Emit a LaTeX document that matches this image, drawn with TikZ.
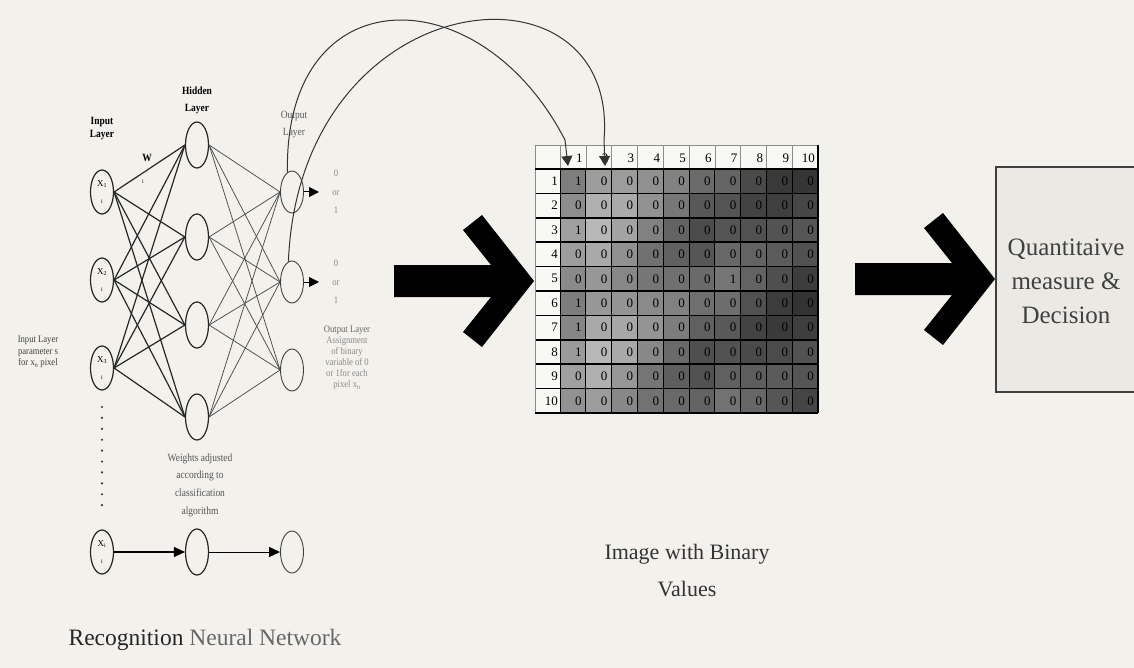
\documentclass[tikz,border=0pt]{standalone}
\usepackage{fontspec}
\setmainfont{Liberation Serif}
\newfontfamily\narrowserif[FakeStretch=0.86]{Liberation Serif}
\usetikzlibrary{shapes.geometric,arrows.meta}
\definecolor{paper}{HTML}{F2F1EB}
\definecolor{cellwhite}{HTML}{F8F8F4}
\definecolor{boxfill}{HTML}{EAE9E3}
\definecolor{inkgray}{HTML}{555555}
\definecolor{fadegray}{HTML}{8A8A8A}
\tikzset{
  neuron/.style={ellipse, draw=black!85, line width=1.2pt, minimum width=23pt,
    minimum height=44pt, inner sep=0pt, align=center},
  hidneuron/.style={neuron, minimum height=46pt},
  outneuron/.style={neuron, line width=0.9pt, draw=black!75, minimum height=42pt},
  wfirst/.style={line width=1.2pt, draw=black!85},
  wsecond/.style={line width=0.75pt, draw=black!70},
  tag/.style={font=\narrowserif\fontsize{11}{13}\selectfont, align=center, inner sep=0pt},
  smalltag/.style={font=\narrowserif\fontsize{10}{11.5}\selectfont, align=center, inner sep=0pt},
  caption/.style={font=\fontsize{22}{37}\selectfont, align=center, inner sep=0pt, text=black!80},
  celldigit/.style={font=\fontsize{13}{13}\selectfont, anchor=east, inner sep=0pt},
  feed/.style={line width=1pt, draw=black!80},
  tiptri/.style={-{Triangle[length=10pt,width=10pt]}},
}
\newcommand{\xin}[1]{{\fontsize{9}{9}\selectfont X\textsubscript{#1}}\\[5pt]{\fontsize{6}{6}\selectfont i}}
\newcommand{\chevronarrow}[2]{%
  \fill[black, shift={(#1,#2)}] (855,263) -- (952,263) -- (924,228) -- (943,213) --
    (995,279) -- (943,345) -- (924,330) -- (952,295) -- (855,295) -- cycle;}
\begin{document}
\begin{tikzpicture}[x=1pt,y=-1pt]
\useasboundingbox (0,0) rectangle (1134,668);
\fill[paper] (0,0) rectangle (1134,668);

% ---------- neural network ----------
\node[neuron] (in1) at (102,192) {\xin{1}};
\node[neuron] (in2) at (102,280) {\xin{2}};
\node[neuron] (in3) at (102,368) {\xin{3}};
\node[hidneuron] (h1) at (197,145) {};
\node[hidneuron] (h2) at (197,237) {};
\node[hidneuron] (h3) at (197,325) {};
\node[hidneuron] (h4) at (197,417) {};
\node[outneuron] (o1) at (292,192) {};
\node[outneuron] (o2) at (292,282) {};
\node[outneuron] (o3) at (292,370) {};

\foreach \i in {1,2,3}
  \foreach \j in {1,2,3,4}
    \draw[wfirst] (in\i.east) -- (h\j.west);
\foreach \j in {1,2,3,4}
  \foreach \k in {1,2,3}
    \draw[wsecond] (h\j.east) -- (o\k.west);

% outputs of the first two output neurons
\coordinate (o1r) at (319,192);
\coordinate (o2r) at (319,282);
\draw[line width=1pt, tiptri] (o1.east) -- (o1r);
\draw[line width=1pt, tiptri] (o2.east) -- (o2r);
\node[font=\narrowserif\fontsize{10}{18.5}\selectfont, align=center, text=fadegray] (o1v) at (336,192) {0\\or\\1};
\node[font=\narrowserif\fontsize{10}{18.5}\selectfont, align=center, text=fadegray] (o2v) at (336,282) {0\\or\\1};

% layer titles
\node[tag, font=\narrowserif\bfseries\fontsize{11}{13}\selectfont] (tin) at (102,129) {Input\\Layer};
\node[tag, font=\narrowserif\bfseries\fontsize{11}{17}\selectfont] (thid) at (197,100) {Hidden\\Layer};
\node[tag, font=\narrowserif\fontsize{11}{17}\selectfont, text=black!65] (tout) at (294,125) {Output\\Layer};
\node[tag, font=\narrowserif\bfseries\fontsize{11}{11}\selectfont] (tw) at (147,158) {W};
\node[tag, font=\fontsize{6}{6}\selectfont] (twi) at (143,182) {i};

% side notes
\node[smalltag, text=black!75] (nleft) at (38,352) {Input Layer\\parameter s\\for x\textsubscript{n} pixel};
\node[smalltag, font=\narrowserif\fontsize{10}{11}\selectfont, text=fadegray] (nright) at (347,358)
  {\textcolor{black!60}{Output Layer}\\Assignment\\of binary\\variable of 0\\or 1for each\\pixel x\textsubscript{n}};
\node[smalltag, font=\narrowserif\fontsize{11}{17.7}\selectfont, text=inkgray] (nweights) at (200,485)
  {Weights adjusted\\according to\\classification\\algorithm};

% vertical ellipsis between the input neurons
\foreach \k in {0,...,9}
  \fill[black!80] (102,{407+10.9*\k}) circle (1.2pt);

% generic chain at the bottom
\node[neuron] (bi) at (102,552) {{\fontsize{9}{9}\selectfont X\textsubscript{i}}\\[5pt]{\fontsize{6}{6}\selectfont i}};
\node[hidneuron] (bh) at (197,552) {};
\node[outneuron] (bo) at (292,552) {};
\draw[line width=1.5pt, -{Triangle[length=11pt,width=10pt]}] (bi.east) -- (bh.west);
\draw[line width=1pt, -{Triangle[length=11pt,width=10pt]}] (bh.east) -- (bo.west);

\node[font=\fontsize{23.5}{26}\selectfont, inner sep=0pt] (cap1) at (205,640)
  {\textcolor{black!85}{Recognition} \textcolor{black!60}{Neural Network}};

% ---------- big arrows ----------
\chevronarrow{-461}{2}
\chevronarrow{0}{0}

% ---------- binary image grid ----------
\fill[cellwhite] (535,145) rectangle (818,169);
\fill[cellwhite] (535,169) rectangle (560,413);
\foreach \c/\base in {1/44,2/35,3/40,4/49,5/56,6/63,7/61,8/67,9/71,10/73}
  \foreach \r in {1,...,10} {
    \pgfmathsetmacro\shadeval{\base + 7*sin(\r*67+\c*41)}
    \fill[black!\shadeval] ({560+(\c-1)*25.8},{169+(\r-1)*24.4}) rectangle ++(25.8,24.4);
  }
\foreach \r/\vals in {1/{1,0,0,0,0,0,0,0,0,0},2/{0,0,0,0,0,0,0,0,0,0},3/{1,0,0,0,0,0,0,0,0,0},
    4/{0,0,0,0,0,0,0,0,0,0},5/{0,0,0,0,0,0,1,0,0,0},6/{1,0,0,0,0,0,0,0,0,0},
    7/{1,0,0,0,0,0,0,0,0,0},8/{1,0,0,0,0,0,0,0,0,0},9/{0,0,0,0,0,0,0,0,0,0},
    10/{0,0,0,0,0,0,0,0,0,0}}
  \foreach \v [count=\c] in \vals
    \node[celldigit] (g\r-\c) at ({560+\c*25.8-4},{169+(\r-0.5)*24.4}) {\v};
\foreach \c in {1,...,10}
  \node[celldigit] (hd\c) at ({560+\c*25.8-3},158) {\c};
\foreach \r in {1,...,10}
  \node[celldigit] (rl\r) at (558,{169+(\r-0.5)*24.4}) {\r};
% rules
\foreach \k in {0,...,10} {
  \draw[black!45, line width=0.6pt] ({560+\k*25.8},145) -- ({560+\k*25.8},169);
  \draw[black, line width=0.8pt] ({560+\k*25.8},169) -- ({560+\k*25.8},413);
}
\foreach \k in {1,...,9}
  \draw[black, line width=1.5pt] (535,{169+\k*24.4}) -- (818,{169+\k*24.4});
\draw[black!45, line width=0.8pt] (535,145) -- (818,145);
\draw[black!45, line width=0.8pt] (535,145) -- (535,413);
\draw[black, line width=2pt] (535,169) -- (818,169);
\draw[black, line width=2pt] (535,413) -- (818,413);
\draw[black, line width=1.2pt] (818,145) -- (818,413);

\node[caption] (cap2) at (687,571) {Image with Binary\\Values};

% pixel assignment links from the output layer to the image
\coordinate (tipA) at (568,166);
\coordinate (tipB) at (605,166);
\draw[feed, -{Triangle[length=10pt,width=11pt]}] (o1.103) .. controls (284,-25) and (480,-25) .. (565,140) -- (tipA);
\draw[feed, -{Triangle[length=10pt,width=11pt]}] (o2.100) .. controls (300,-20) and (620,-50) .. (604,140) -- (tipB);

% ---------- decision box ----------
\node[draw=black!75, line width=1.3pt, fill=boxfill, minimum width=146pt, minimum height=225pt,
  inner sep=0pt] (dec) at (1069,279.5) {};
\node[font=\fontsize{25}{34}\selectfont, align=center, text=black!75, inner sep=0pt] (dectxt) at (1066,281)
  {Quantitaive\\measure \&\\Decision};
\end{tikzpicture}
\end{document}
